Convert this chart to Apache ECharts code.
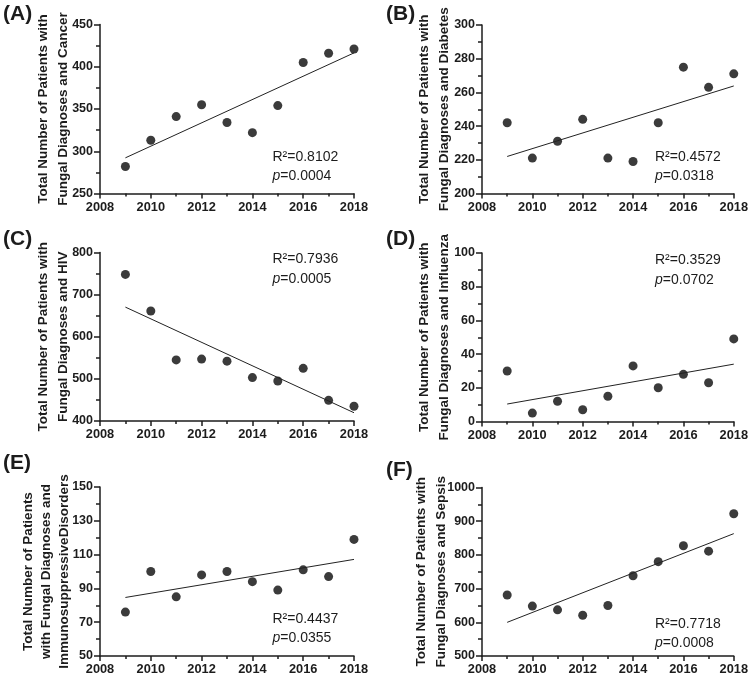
<!DOCTYPE html>
<html>
<head>
<meta charset="utf-8">
<script src="https://cdn.jsdelivr.net/npm/echarts@6/dist/echarts.min.js"></script>
<style>
html,body{margin:0;padding:0;background:#fff;}
#c{width:751px;height:679px;}
</style>
</head>
<body>
<div id="c"></div>
<script>
// ---- data ----
const years = [2009, 2010, 2011, 2012, 2013, 2014, 2015, 2016, 2017, 2018];
const cancer = [282, 313, 341, 355, 334, 322, 354, 405, 416, 421];
const diabetes = [242, 221, 231, 244, 221, 219, 242, 275, 263, 271];
const hiv = [748, 661, 545, 547, 542, 503, 495, 525, 449, 435];
const influenza = [30, 5, 12, 7, 15, 33, 20, 28, 23, 49];
const immuno = [76, 100, 85, 98, 100, 94, 89, 101, 97, 119];
const sepsis = [681, 648, 637, 621, 650, 738, 780, 827, 811, 922];

const panelLabels = ['(A)', '(B)', '(C)', '(D)', '(E)', '(F)'];
const yTitles = [
  'Total Number of Patients with\nFungal Diagnoses and Cancer',
  'Total Number of Patients with\nFungal Diagnoses and Diabetes',
  'Total Number of Patients with\nFungal Diagnoses and HIV',
  'Total Number of Patients with\nFungal Diagnoses and Influenza',
  'Total Number of Patients\nwith Fungal Diagnoses and\nImmunosuppressiveDisorders',
  'Total Number of Patients with\nFungal Diagnoses and Sepsis'
];
const yMins = [250, 200, 400, 0, 50, 500];
const yMaxs = [450, 300, 800, 100, 150, 1000];
const yIntervals = [50, 20, 100, 20, 20, 100];
const r2Labels = ['0.8102', '0.4572', '0.7936', '0.3529', '0.4437', '0.7718'];
const pLabels = ['0.0004', '0.0318', '0.0005', '0.0702', '0.0355', '0.0008'];
const xMin = 2008, xMax = 2018, xInterval = 2;

const seriesData = [cancer, diabetes, hiv, influenza, immuno, sepsis];

// ---- layout ----
const grids = [
  {left: 100, top: 24.5, width: 254, height: 169},
  {left: 482, top: 25, width: 253, height: 168.5},
  {left: 100, top: 252.5, width: 254, height: 168.5},
  {left: 482, top: 253, width: 253, height: 168.5},
  {left: 100, top: 487, width: 254, height: 169},
  {left: 482, top: 487.5, width: 253, height: 168.5}
];
const annPos = [
  [272.5, 147], [655, 147],
  [272.5, 249.5], [655, 250.5],
  [272.5, 609], [655, 614]
];
const labelPos = [[3, 15], [386, 15], [3, 240], [386, 240], [3, 464], [386, 471]];
const titleLineHeights = [19.5, 19.5, 19.5, 19.5, 18, 19.5];
const titleGaps = [27, 28, 27, 28, 27, 31];

const FONT = '"Liberation Sans", Arial, Helvetica, sans-serif';
const INK = '#1c1c1c';

function fit(xs, ys) {
  const n = xs.length;
  const mx = xs.reduce((a, b) => a + b, 0) / n;
  const my = ys.reduce((a, b) => a + b, 0) / n;
  let sxy = 0, sxx = 0;
  for (let i = 0; i < n; i++) { sxy += (xs[i] - mx) * (ys[i] - my); sxx += (xs[i] - mx) ** 2; }
  const b = sxy / sxx, a = my - b * mx;
  return [[xs[0], a + b * xs[0]], [xs[n - 1], a + b * xs[n - 1]]];
}

const xAxes = [], yAxes = [], series = [], graphics = [];
for (let i = 0; i < 6; i++) {
  xAxes.push({
    type: 'value', gridIndex: i, min: xMin, max: xMax, interval: xInterval,
    axisLine: {lineStyle: {color: INK, width: 1.5}},
    axisTick: {show: true, length: 5, lineStyle: {color: INK, width: 1.5}},
    minorTick: {show: true, splitNumber: 2, length: 3, lineStyle: {color: INK, width: 1.5}},
    splitLine: {show: false},
    axisLabel: {color: INK, fontFamily: FONT, fontWeight: 'bold', fontSize: 12.8, margin: 7,
      formatter: v => String(v)}
  });
  yAxes.push({
    type: 'value', gridIndex: i, min: yMins[i], max: yMaxs[i], interval: yIntervals[i],
    axisLine: {show: true, lineStyle: {color: INK, width: 1.5}},
    axisTick: {show: true, length: 6, lineStyle: {color: INK, width: 1.5}},
    minorTick: {show: true, splitNumber: 2, length: 4, lineStyle: {color: INK, width: 1.5}},
    splitLine: {show: false},
    axisLabel: {color: INK, fontFamily: FONT, fontWeight: 'bold', fontSize: 12.5, margin: 7,
      formatter: v => String(v)},
    name: yTitles[i], nameLocation: 'middle', nameRotate: 90, nameGap: titleGaps[i],
    nameMoveOverlap: false,
    nameTextStyle: {color: INK, fontFamily: FONT, fontWeight: 'bold', fontSize: 13.5,
      lineHeight: titleLineHeights[i], align: 'center'}
  });
  const ys = seriesData[i];
  series.push({
    type: 'scatter', xAxisIndex: i, yAxisIndex: i, symbol: 'circle', symbolSize: 9,
    itemStyle: {color: '#0a0a0a'}, silent: true,
    data: years.map((y, k) => [y, ys[k]])
  });
  series.push({
    type: 'line', xAxisIndex: i, yAxisIndex: i, symbol: 'none', silent: true,
    lineStyle: {color: '#222', width: 1},
    data: fit(years, ys)
  });
  graphics.push({
    type: 'text', left: labelPos[i][0], top: labelPos[i][1] - 11,
    style: {text: panelLabels[i], font: 'bold 21px ' + FONT, fill: INK}
  });
  graphics.push({
    type: 'text', x: annPos[i][0], y: annPos[i][1],
    style: {
      text: '{a|R²=' + r2Labels[i] + '}\n{i|p}{a|=' + pLabels[i] + '}',
      fill: INK,
      rich: {
        a: {fontFamily: FONT, fontSize: 14, lineHeight: 19.5, fill: INK},
        i: {fontFamily: FONT, fontSize: 14, fontStyle: 'italic', lineHeight: 19.5, fill: INK}
      }
    }
  });
}

const chart = echarts.init(document.getElementById('c'), null, {renderer: 'canvas'});
chart.setOption({
  backgroundColor: '#fff',
  animation: false,
  grid: grids,
  xAxis: xAxes,
  yAxis: yAxes,
  series: series,
  graphic: graphics
});
</script>
</body>
</html>
